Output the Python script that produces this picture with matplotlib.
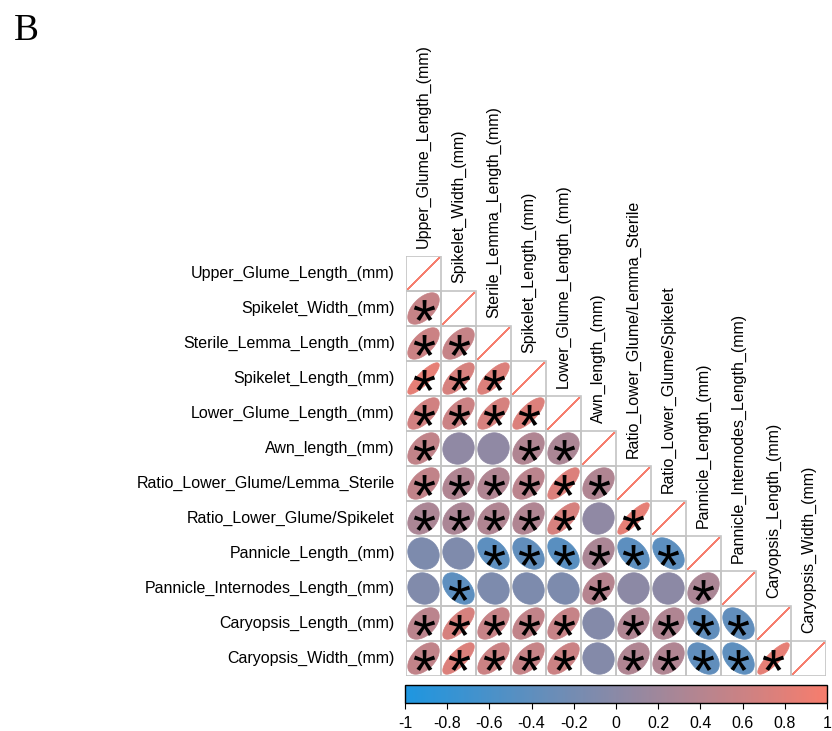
import numpy as np
import matplotlib
matplotlib.use("Agg")
import matplotlib as mpl
import matplotlib.pyplot as plt
from matplotlib.colors import LinearSegmentedColormap, Normalize
from matplotlib.patches import Polygon, Rectangle
from matplotlib.textpath import TextPath
from matplotlib.font_manager import FontProperties
from matplotlib.path import Path

traits = [
    "Upper_Glume_Length_(mm)",
    "Spikelet_Width_(mm)",
    "Sterile_Lemma_Length_(mm)",
    "Spikelet_Length_(mm)",
    "Lower_Glume_Length_(mm)",
    "Awn_length_(mm)",
    "Ratio_Lower_Glume/Lemma_Sterile",
    "Ratio_Lower_Glume/Spikelet",
    "Pannicle_Length_(mm)",
    "Pannicle_Internodes_Length_(mm)",
    "Caryopsis_Length_(mm)",
    "Caryopsis_Width_(mm)",
]

# lower triangle of the correlation matrix, row by row (diagonal excluded)
corr_rows = [
    [],
    [0.55],
    [0.60, 0.55],
    [0.85, 0.70, 0.75],
    [0.65, 0.60, 0.70, 0.75],
    [0.50, 0.05, 0.05, 0.35, 0.30],
    [0.50, 0.35, 0.35, 0.45, 0.75, 0.35],
    [0.30, 0.30, 0.35, 0.35, 0.70, 0.05, 0.85],
    [-0.12, -0.10, -0.42, -0.38, -0.45, 0.30, -0.42, -0.42],
    [-0.08, -0.42, -0.12, -0.12, -0.12, 0.40, 0.02, 0.02, 0.30],
    [0.45, 0.70, 0.55, 0.50, 0.55, -0.05, 0.35, 0.35, -0.38, -0.38],
    [0.50, 0.75, 0.60, 0.55, 0.60, -0.05, 0.35, 0.35, -0.38, -0.40, 0.85],
]

# 1 = significant (p < 0.05), marked with a star
sig_rows = [
    [],
    [1],
    [1, 1],
    [1, 1, 1],
    [1, 1, 1, 1],
    [1, 0, 0, 1, 1],
    [1, 1, 1, 1, 1, 1],
    [1, 1, 1, 1, 1, 0, 1],
    [0, 0, 1, 1, 1, 1, 1, 1],
    [0, 1, 0, 0, 0, 1, 0, 0, 1],
    [1, 1, 1, 1, 1, 0, 1, 1, 1, 1],
    [1, 1, 1, 1, 1, 0, 1, 1, 1, 1, 1],
]

cbar_ticks = [-1, -0.8, -0.6, -0.4, -0.2, 0, 0.2, 0.4, 0.6, 0.8, 1]

cmap = LinearSegmentedColormap.from_list("bl_sal", ["#1E96E0", "#F67D6D"])
norm = Normalize(-1, 1)
font = "Liberation Sans"
fs = 11.5


def ellipse(r, cx, cy, scale=0.9, n=100):
    k = np.linspace(0, 2 * np.pi, n)
    d = np.arccos(np.clip(r, -1, 1))
    x = np.cos(k + d / 2) / 2 * scale
    y = np.cos(k - d / 2) / 2 * scale
    return np.column_stack([cx + x, cy - y])


def star_marker():
    tp = TextPath((0, 0), "*", prop=FontProperties(family=font), size=1)
    verts = tp.vertices.copy()
    codes = tp.codes
    # CLOSEPOLY vertices are dummies at (0, 0); point them at the last real vertex
    for k in range(len(verts)):
        if codes[k] == Path.CLOSEPOLY:
            verts[k] = verts[k - 1]
    real = codes != Path.CLOSEPOLY
    cx = (verts[real, 0].min() + verts[real, 0].max()) / 2
    cy = (verts[real, 1].min() + verts[real, 1].max()) / 2
    verts = verts - [cx, cy]
    return Path(verts, codes)


n = len(traits)
fig = plt.figure(figsize=(8.32, 7.31), dpi=100)
W, H = 832, 731
gx0, gx1, gy0, gy1 = 406, 826, 256, 676
ax = fig.add_axes([gx0 / W, 1 - gy1 / H, (gx1 - gx0) / W, (gy1 - gy0) / H])
ax.set_xlim(-0.5, n - 0.5)
ax.set_ylim(n - 0.5, -0.5)
ax.axis("off")

# cell borders
for i in range(n):
    for j in range(i + 1):
        ax.add_patch(Rectangle((j - 0.5, i - 0.5), 1, 1, fill=False,
                               edgecolor="#C4C4C4", lw=1.2, zorder=1))

# diagonal
for i in range(n):
    pts = ellipse(1.0, i, i)
    ax.plot(pts[:, 0], pts[:, 1], color=cmap(norm(1.0)), lw=1.0, zorder=2)

# ellipses
star_x, star_y = [], []
for i, row in enumerate(corr_rows):
    for j, r in enumerate(row):
        col = cmap(norm(r))
        ax.add_patch(Polygon(ellipse(r, j, i), closed=True, facecolor=col,
                             edgecolor=col, lw=0.5, zorder=2))
        if sig_rows[i][j]:
            star_x.append(j)
            star_y.append(i + 0.05)

ax.scatter(star_x, star_y, marker=star_marker(), s=235, c="black",
           linewidths=0, zorder=3)

# labels
for i, name in enumerate(traits):
    ax.text(-0.5 - 0.32, i, name, ha="right", va="center", fontsize=fs,
            family=font, clip_on=False)
    ax.text(i, i - 0.5 - 0.22, name, ha="center", va="bottom", rotation=90,
            fontsize=fs, family=font, clip_on=False)

# colour bar
cax = fig.add_axes([405 / W, 1 - 703 / H, 422 / W, 18 / H])
cb = mpl.colorbar.ColorbarBase(cax, cmap=cmap, norm=norm,
                               orientation="horizontal", ticks=cbar_ticks)
cb.set_ticklabels([f"{t:g}" for t in cbar_ticks])
cb.outline.set_linewidth(1.0)
cax.tick_params(axis="x", direction="out", length=4, width=0.8,
                labelsize=fs, pad=5)
for lab in cax.get_xticklabels():
    lab.set_family(font)

fig.text(14 / W, 1 - 14 / H, "B", ha="left", va="top", fontsize=27,
         family="Liberation Serif")

fig.savefig("out.png", dpi=100)
